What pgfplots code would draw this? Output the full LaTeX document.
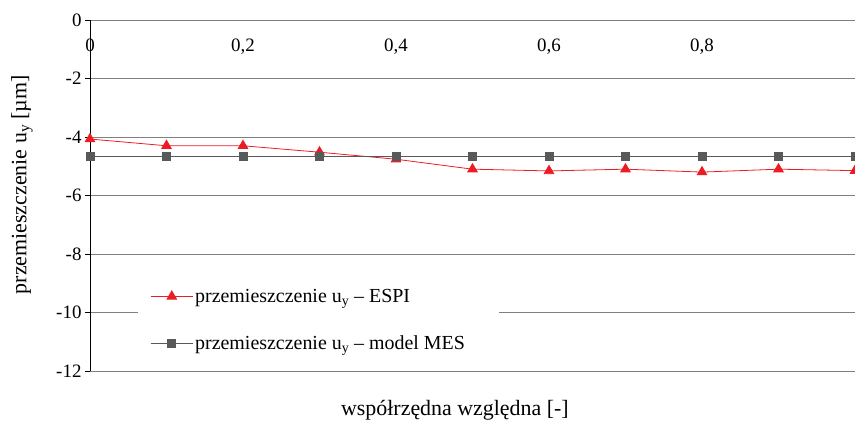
\documentclass[border=0pt]{standalone}
\usepackage{fontspec}
\setmainfont{Liberation Serif}
\usepackage{pgfplots}
\pgfplotsset{compat=1.18}
\usetikzlibrary{calc}
\definecolor{espired}{HTML}{ED1C24}
\definecolor{mesgray}{HTML}{58595B}
\begin{document}
\begin{tikzpicture}
\begin{axis}[
  scale only axis, width=765bp, height=351bp,
  xmin=0, xmax=1, ymin=-12, ymax=0,
  axis x line*=top, axis y line*=left,
  x axis line style={draw=gray, line width=0.8pt},
  y axis line style={draw=black, line width=0.6pt},
  xtick={0,0.2,0.4,0.6,0.8},
  xticklabel style={anchor=north, yshift=-20bp},
  x tick style={draw=none},
  ytick={-12,-10,...,0},
  y tick style={black, line width=0.6pt},
  tick align=outside, major tick length=5bp,
  ymajorgrids, grid style={gray, line width=0.8pt},
  /pgf/number format/use comma,
  /pgf/number format/assume math mode=true,
  tick label style={font=\fontsize{19}{21}\selectfont},
  label style={font=\fontsize{22}{24}\selectfont},
  xlabel={współrzędna względna [-]},
  xlabel style={at={(axis description cs:0.477,-0.111)}, anchor=center},
  ylabel={przemieszczenie u\textsubscript{y} [µm]},
  ylabel style={at={(axis description cs:-0.0889,0.531)}, anchor=center, rotate=0},
  legend style={at={(axis description cs:0.063,0.145)}, anchor=west, draw=none, fill=white,
    font=\fontsize{20}{22}\selectfont, row sep=28bp, inner xsep=12bp},
  legend cell align=left,
  legend image code/.code={\draw[mark repeat=2,mark phase=2] plot coordinates {(0bp,0bp) (21bp,0bp) (42bp,0bp)};},
]
\addplot[espired, line width=0.8pt, mark=triangle*, mark size=5.5bp, mark options={solid, fill=espired, draw=espired}]
  coordinates {(0,-4.07) (0.1,-4.30) (0.2,-4.30) (0.3,-4.52) (0.4,-4.76) (0.5,-5.10) (0.6,-5.16) (0.7,-5.10) (0.8,-5.20) (0.9,-5.10) (1.0,-5.15)};
\addlegendentry{przemieszczenie u\textsubscript{y} -- ESPI}
\addplot[mesgray, line width=0.8pt, mark=square*, mark size=4bp, mark options={solid, fill=mesgray, draw=mesgray}]
  coordinates {(0,-4.66) (0.1,-4.66) (0.2,-4.66) (0.3,-4.66) (0.4,-4.66) (0.5,-4.66) (0.6,-4.66) (0.7,-4.66) (0.8,-4.66) (0.9,-4.66) (1.0,-4.66)};
\addlegendentry{przemieszczenie u\textsubscript{y} -- model MES\hspace*{20bp}}
\end{axis}
\pgfresetboundingbox
\path ($(current axis.south west)+(-90bp,-50bp)$) rectangle ($(current axis.north east)+(0bp,20bp)$);
\end{tikzpicture}
\end{document}
